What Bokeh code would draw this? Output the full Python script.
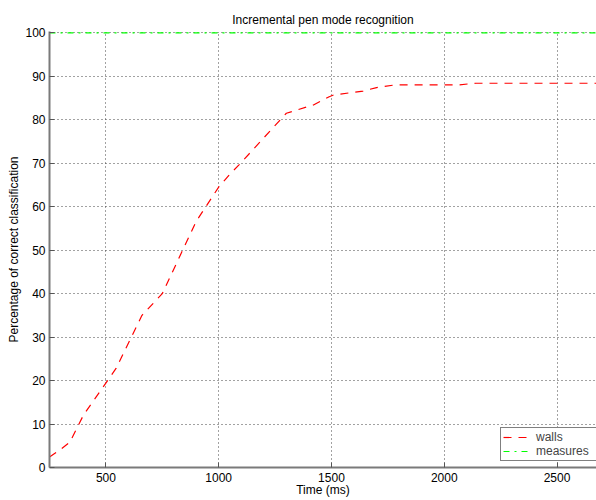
from bokeh.plotting import figure
from bokeh.models import FixedTicker, Legend, LegendItem, Range1d
from bokeh.embed import file_html
from bokeh.resources import INLINE

# ---- data ----
walls_time = [250, 300, 340, 400, 545, 660, 750, 900, 1000, 1050, 1090, 1300,
              1420, 1490, 1510, 1640, 1700, 1780, 2060, 2140, 2680]
walls_pct = [2.4, 4.2, 5.8, 12.0, 22.8, 35.0, 40.0, 56.6, 64.5, 67.5, 69.6, 81.5,
             83.4, 85.3, 85.7, 86.6, 87.4, 88.0, 88.0, 88.4, 88.4]
measures_time = [250, 2680]
measures_pct = [100, 100]
x_ticks = [500, 1000, 1500, 2000, 2500]
y_ticks = [0, 10, 20, 30, 40, 50, 60, 70, 80, 90, 100]

FONT = "Liberation Sans"

p = figure(width=596, height=500, output_backend="svg", toolbar_location=None,
           x_range=Range1d(250, 2675), y_range=Range1d(0, 100.3),
           title="Incremental pen mode recognition",
           min_border_left=49, min_border_right=0, min_border_top=31, min_border_bottom=33)

p.background_fill_color = "white"
p.border_fill_color = "white"
p.outline_line_color = None

p.title.text_font = FONT
p.title.text_font_size = "12px"
p.title.text_font_style = "normal"
p.title.align = "center"
p.title.text_color = "black"

for ax in (p.xaxis[0], p.yaxis[0]):
    ax.axis_line_color = "#7a7a7a"
    ax.axis_line_width = 2
    ax.major_tick_line_color = "#555555"
    ax.major_tick_in = 5
    ax.major_tick_out = 0
    ax.minor_tick_line_color = None
    ax.major_label_text_font = FONT
    ax.major_label_text_font_size = "12px"
    ax.major_label_text_color = "black"
    ax.axis_label_text_font = FONT
    ax.axis_label_text_font_size = "12px"
    ax.axis_label_text_font_style = "normal"
    ax.axis_label_text_color = "black"

p.xaxis.ticker = FixedTicker(ticks=x_ticks)
p.yaxis.ticker = FixedTicker(ticks=y_ticks)
p.xaxis.axis_label = "Time (ms)"
p.yaxis.axis_label = "Percentage of correct classification"
p.xaxis.major_label_standoff = 5
p.xaxis.axis_label_standoff = -2
p.yaxis.major_label_standoff = 4
p.yaxis.axis_label_standoff = 1

p.xgrid.ticker = FixedTicker(ticks=x_ticks)
p.ygrid.ticker = FixedTicker(ticks=y_ticks)
for g in (p.xgrid[0], p.ygrid[0]):
    g.grid_line_color = "#444444"
    g.grid_line_dash = "1 3"
    g.grid_line_width = 1

r_walls = p.line(walls_time, walls_pct, line_color="#ff0000", line_width=1.2,
                 line_dash="8 7")
r_meas = p.line(measures_time, measures_pct, line_color="#00ff00", line_width=1.2,
                line_dash="6 5 2 5")

legend = Legend(items=[LegendItem(label="walls", renderers=[r_walls]),
                       LegendItem(label="measures", renderers=[r_meas])],
                location=(451, 6), margin=0, padding=2, spacing=0,
                glyph_width=26, glyph_height=12, label_height=12, label_width=59,
                label_standoff=7,
                label_text_font=FONT, label_text_font_size="12px",
                border_line_color="black", border_line_width=1,
                background_fill_color="white", background_fill_alpha=1)
p.add_layout(legend)

open("out.html", "w").write(file_html(p, INLINE))
